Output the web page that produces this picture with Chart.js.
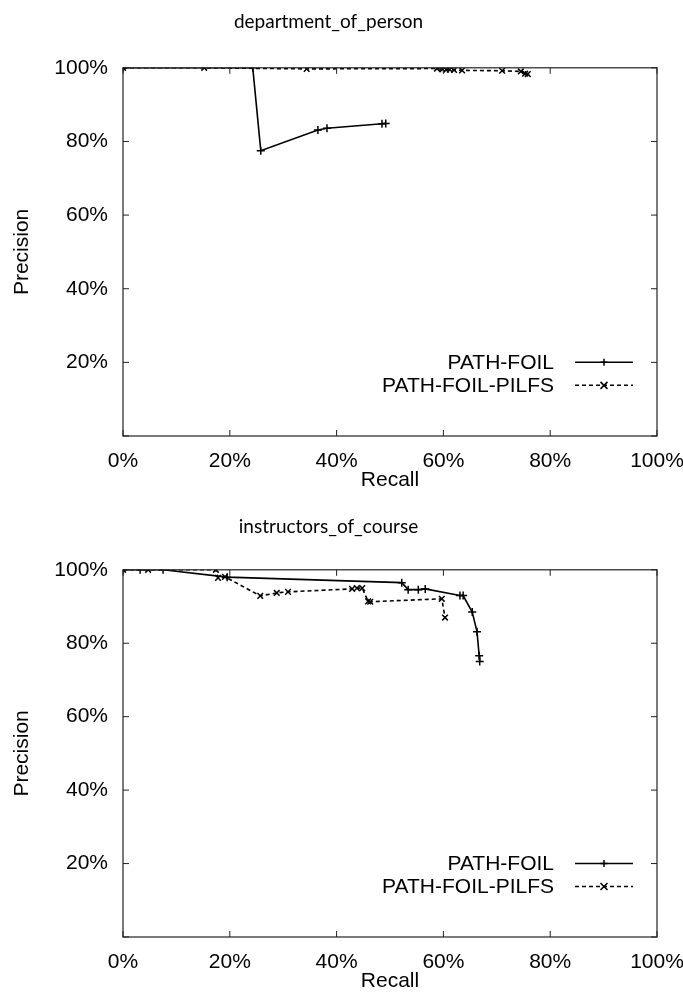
<!DOCTYPE html>
<html>
<head>
<meta charset="utf-8">
<script src="https://cdn.jsdelivr.net/npm/chart.js@4/dist/chart.umd.min.js"></script>
<style>
  html, body { margin: 0; padding: 0; background: #fff; }
  .box { width: 683px; position: relative; }
  canvas { display: block; }
</style>
</head>
<body>
<div class="box" style="height:502px"><canvas id="chart1" width="683" height="502"></canvas></div>
<div class="box" style="height:492px"><canvas id="chart2" width="683" height="492"></canvas></div>
<script>
// department_of_person
const recallPF1 = [0, 24.3, 25.8, 36.5, 38.2, 48.5, 49.2];
const precPF1   = [100, 100, 77.5, 83.1, 83.6, 84.8, 84.9];
const recallPP1 = [0, 15.2, 34.4, 58.8, 59.8, 60.5, 61.2, 62.0, 63.5, 71.0, 74.5, 75.3, 75.8];
const precPP1   = [100, 100, 99.7, 99.8, 99.6, 99.5, 99.5, 99.4, 99.3, 99.2, 99.0, 98.4, 98.3];

// instructors_of_course
const recallPF2 = [0, 3.2, 7.5, 19.5, 52.2, 53.4, 55.3, 56.6, 63.1, 63.7, 65.4, 66.3, 66.7, 66.8];
const precPF2   = [100, 100, 100, 98.0, 96.5, 94.6, 94.6, 94.8, 93.0, 93.0, 88.5, 83.1, 76.6, 75.0];
const recallPP2 = [0, 4.7, 17.4, 17.8, 19.1, 25.7, 28.8, 30.9, 42.9, 43.8, 44.8, 45.9, 46.3, 59.7, 60.3];
const precPP2   = [100, 100, 100, 97.8, 98.1, 92.9, 93.7, 94.0, 94.8, 95.0, 95.0, 91.4, 91.3, 92.1, 87.0];

const xTicks = [0, 20, 40, 60, 80, 100];
const yTicks = [0, 20, 40, 60, 80, 100];
const seriesNames = ['PATH-FOIL', 'PATH-FOIL-PILFS'];

const sans = "Liberation Sans, Arial, sans-serif";
const tickFont = { family: sans, size: 21, lineHeight: 1 };

function pts(xs, ys) {
  return xs.map((x, i) => ({ x: x, y: ys[i] }));
}

// frame, inward ticks, gnuplot style key
const framePlugin = {
  id: 'frame',
  afterDatasetsDraw(chart) {
    const { ctx, chartArea: a, scales } = chart;
    ctx.save();
    ctx.strokeStyle = '#222';
    ctx.lineWidth = 1.2;
    ctx.strokeRect(a.left, a.top, a.right - a.left, a.bottom - a.top);
    ctx.lineWidth = 1;
    xTicks.forEach(v => {
      const px = scales.x.getPixelForValue(v);
      ctx.beginPath();
      ctx.moveTo(px, a.bottom); ctx.lineTo(px, a.bottom - 6);
      ctx.moveTo(px, a.top); ctx.lineTo(px, a.top + 6);
      ctx.stroke();
    });
    yTicks.forEach(v => {
      const py = scales.y.getPixelForValue(v);
      ctx.beginPath();
      ctx.moveTo(a.left, py); ctx.lineTo(a.left + 6, py);
      ctx.moveTo(a.right, py); ctx.lineTo(a.right - 6, py);
      ctx.stroke();
    });

    // key
    const y0 = scales.y.getPixelForValue(20);
    chart.data.datasets.forEach((ds, i) => {
      const y = y0 + i * 23;
      ctx.fillStyle = '#000';
      ctx.font = "21px " + sans;
      ctx.textAlign = 'right';
      ctx.textBaseline = 'middle';
      ctx.fillText(ds.label, a.right - 103, y + 1);
      ctx.strokeStyle = '#000';
      ctx.lineWidth = 1.5;
      ctx.setLineDash(ds.borderDash || []);
      ctx.beginPath();
      ctx.moveTo(a.right - 82, y); ctx.lineTo(a.right - 24, y);
      ctx.stroke();
      ctx.setLineDash([]);
      const cx = a.right - 53, r = 3.5;
      ctx.beginPath();
      if (ds.pointStyle === 'cross') {
        ctx.moveTo(cx - r, y); ctx.lineTo(cx + r, y);
        ctx.moveTo(cx, y - r); ctx.lineTo(cx, y + r);
      } else {
        ctx.moveTo(cx - r, y - r); ctx.lineTo(cx + r, y + r);
        ctx.moveTo(cx - r, y + r); ctx.lineTo(cx + r, y - r);
      }
      ctx.stroke();
    });
    ctx.restore();
  }
};

function makeChart(id, title, pf, pp, titleTop, padBottom) {
  const ctx = document.getElementById(id).getContext('2d');
  return new Chart(ctx, {
    type: 'scatter',
    data: {
      datasets: [
        {
          label: seriesNames[0],
          data: pf,
          showLine: true,
          borderColor: '#000',
          backgroundColor: '#000',
          borderWidth: 1.6,
          pointStyle: 'cross',
          pointRadius: 4,
          pointBorderWidth: 1.5,
          pointBorderColor: '#000',
        },
        {
          label: seriesNames[1],
          data: pp,
          showLine: true,
          borderColor: '#000',
          backgroundColor: '#000',
          borderWidth: 1.6,
          borderDash: [4, 3],
          pointStyle: 'crossRot',
          pointRadius: 4,
          pointBorderWidth: 1.5,
          pointBorderColor: '#000',
        }
      ]
    },
    options: {
      responsive: false,
      animation: false,
      layout: { padding: { left: 0, right: 26, top: 0, bottom: padBottom } },
      plugins: {
        legend: { display: false },
        tooltip: { enabled: false },
        title: {
          display: true,
          text: title,
          color: '#000',
          font: { family: "Lato, 'DejaVu Sans', sans-serif", size: 19, weight: 'normal', lineHeight: 1.2 },
          padding: { top: titleTop, bottom: 45 - titleTop }
        }
      },
      scales: {
        x: {
          type: 'linear',
          min: 0, max: 100,
          afterBuildTicks: s => { s.ticks = xTicks.map(v => ({ value: v })); },
          afterFit: s => { s.height = 55; s.paddingLeft = 0; s.paddingRight = 0; },
          grid: { display: false, drawTicks: false },
          border: { display: false },
          ticks: { color: '#000', font: tickFont, padding: 15, maxRotation: 0, callback: v => v + '%' },
          title: { display: true, text: 'Recall', color: '#000', font: tickFont, padding: { top: 0, bottom: 0 } }
        },
        y: {
          type: 'linear',
          min: 0, max: 100,
          afterBuildTicks: s => { s.ticks = yTicks.map(v => ({ value: v })); },
          afterFit: s => { s.width = 123; },
          grid: { display: false, drawTicks: false },
          border: { display: false },
          ticks: { color: '#000', font: tickFont, padding: 15, callback: v => (v === 0 ? '' : v + '%') },
          title: { display: true, text: 'Precision', color: '#000', font: tickFont, padding: { top: 12, bottom: 0 } }
        }
      }
    },
    plugins: [framePlugin]
  });
}

makeChart('chart1', 'department_of_person', pts(recallPF1, precPF1), pts(recallPP1, precPP1), 10, 11);
makeChart('chart2', 'instructors_of_course', pts(recallPF2, precPF2), pts(recallPP2, precPP2), 13, 2);
</script>
</body>
</html>
